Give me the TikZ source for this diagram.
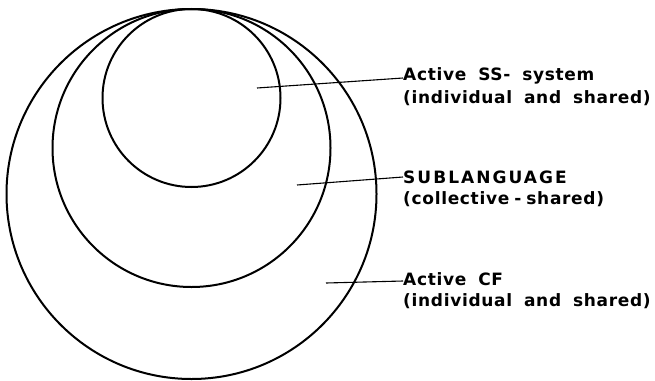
\documentclass[tikz,border=0pt]{standalone}
\usepackage{fontspec}
\setmainfont{DejaVu Sans}[LetterSpace=4, WordSpace=1.8]
\begin{document}
\begin{tikzpicture}[x=1pt,y=-1pt,
  ring/.style={line width=2pt},
  leader/.style={line width=1.1pt},
  lbl/.style={anchor=west, inner sep=0pt, font=\fontsize{17}{20}\selectfont\bfseries}]
\useasboundingbox (0,0) rectangle (655,380);
\draw[ring] (191.5,194) circle[radius=185];
\draw[ring] (191.5,148) circle[radius=139];
\draw[ring] (191.5,98) circle[radius=89];
\node[lbl] (ss1) at (403,76) {Active SS- system};
\node[lbl] (ss2) at (403,98) {(individual and shared)};
\node[lbl] (sl1) at (403,177) {\addfontfeature{LetterSpace=12}SUBLANGUAGE};
\node[lbl] (sl2) at (403,199) {(collective\hspace{5pt}-\hspace{5pt}shared)};
\node[lbl] (cf1) at (403,279) {Active CF};
\node[lbl] (cf2) at (403,301) {(individual and shared)};
\coordinate (p1) at (257,88);
\coordinate (p2) at (297,185);
\coordinate (p3) at (326,283);
\draw[leader] (p1) -- ([yshift=-2pt]ss1.west);
\draw[leader] (p2) -- (sl1.west);
\draw[leader] (p3) -- ([yshift=-2pt]cf1.west);
\end{tikzpicture}
\end{document}
